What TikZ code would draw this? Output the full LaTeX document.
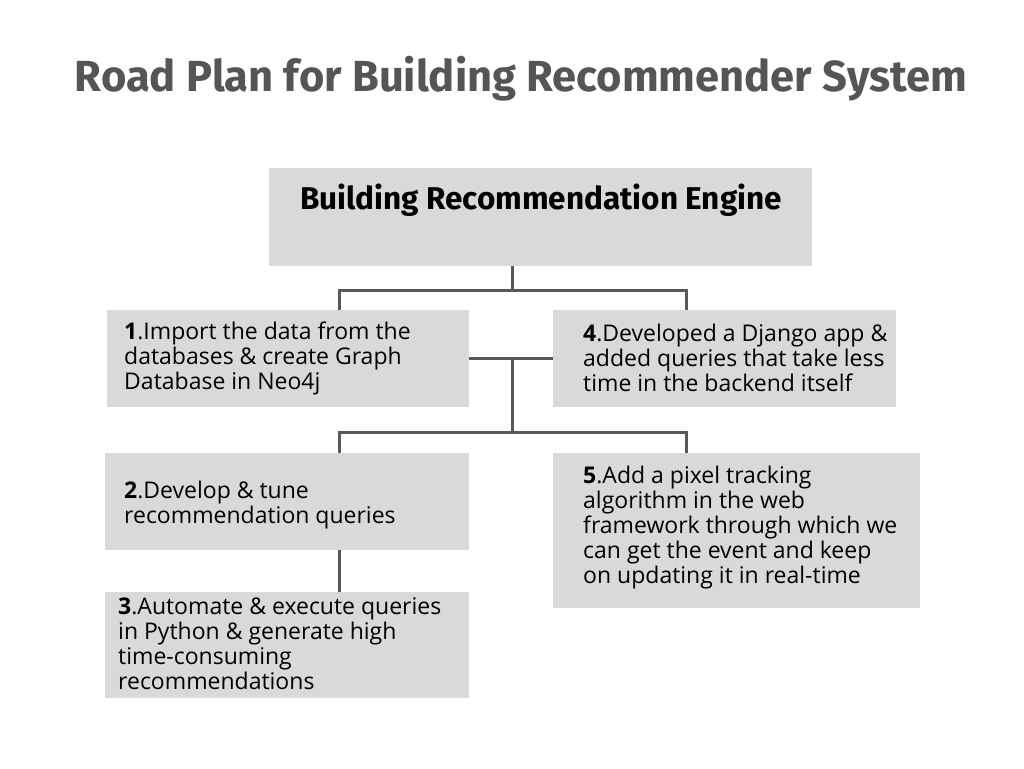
\documentclass[tikz,border=0pt]{standalone}
\usepackage{fontspec}
\setmainfont{Open Sans}
\newfontfamily\titlefont{Fira Sans}
\definecolor{boxgray}{HTML}{D9D9D9}
\definecolor{linegray}{HTML}{595959}
\definecolor{titlegray}{HTML}{555555}
\tikzset{
  boxnode/.style={fill=boxgray, draw=none, inner sep=0pt, anchor=north west},
  txt/.style={anchor=west, align=left, inner sep=0pt, font=\fontsize{23}{25}\selectfont, text=black},
  conn/.style={draw=linegray, line width=3pt}
}
\begin{document}
\begin{tikzpicture}[x=1pt,y=-1pt]
\useasboundingbox (0,0) rectangle (1024,768);
% title
\node[anchor=center, inner sep=0pt, text=titlegray, font=\titlefont\bfseries\fontsize{43.5}{48}\selectfont] (title) at (521,79) {Road Plan for Building Recommender System};
% boxes
\node[boxnode, minimum width=543pt, minimum height=98pt] (b0) at (269,168) {};
\node[boxnode, minimum width=362pt, minimum height=97pt] (b1) at (107,310) {};
\node[boxnode, minimum width=343pt, minimum height=97pt] (b4) at (553,310) {};
\node[boxnode, minimum width=364pt, minimum height=97pt] (b2) at (105,453) {};
\node[boxnode, minimum width=367pt, minimum height=155pt] (b5) at (553,453) {};
\node[boxnode, minimum width=364pt, minimum height=106pt] (b3) at (105,592) {};
% texts
\node[anchor=center, inner sep=0pt, font=\titlefont\bfseries\fontsize{31.5}{36}\selectfont] (t0) at (541,200) {Building Recommendation Engine};
\node[txt] (t1) at (124,358) {\textbf{1}.Import the data from the\\databases \& create Graph\\Database in Neo4j};
\node[txt] (t4) at (583,358) {\textbf{4}.Developed a Django app \&\\added queries that take less\\time in the backend itself};
\node[txt] (t2) at (124,505.5) {\textbf{2}.Develop \& tune\\recommendation queries};
\node[txt] (t5) at (583,528) {\textbf{5}.Add a pixel tracking\\algorithm in the web\\framework through which we\\can get the event and keep\\on updating it in real-time};
\node[txt] (t3) at (118,643.5) {\textbf{3}.Automate \& execute queries\\in Python \& generate high\\time-consuming\\recommendations};
% connectors
\coordinate (j1) at (512,290);
\coordinate (j2) at (512,358);
\coordinate (j3) at (512,432);
\draw[conn] (b0.south -| j1) -- (j1);
\draw[conn] (b1.north -| 339,0) -- (339,290) -- (686,290) -- (b4.north -| 686,0);
\draw[conn] (b1.east |- j2) -- (b4.west |- j2);
\draw[conn] (j2) -- (j3);
\draw[conn] (b2.north -| 339,0) -- (339,432) -- (686,432) -- (b5.north -| 686,0);
\draw[conn] (b2.south -| 339,0) -- (b3.north -| 339,0);
\end{tikzpicture}
\end{document}
